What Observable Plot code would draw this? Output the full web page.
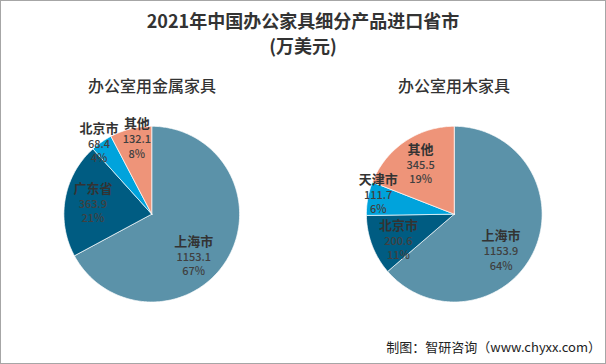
<!DOCTYPE html>
<html>
<head>
<meta charset="utf-8">
<script src="https://cdn.jsdelivr.net/npm/d3@7"></script>
<script src="https://cdn.jsdelivr.net/npm/@observablehq/plot@0.6"></script>
<style>
  html, body { margin: 0; padding: 0; background: #fff; }
  #wrap { position: relative; width: 606px; height: 364px; box-sizing: border-box; border: 1px solid #a6a6a6; overflow: hidden; font-family: "Noto Sans CJK SC", sans-serif; }
  #chart { position: absolute; left: -1px; top: -1px; }
  .title { position: absolute; left: 0; width: 604px; top: 7px; text-align: center; font-size: 18px; font-weight: bold; line-height: 25px; color: #333; }
  .sub { position: absolute; top: 73px; width: 240px; text-align: center; font-size: 16px; line-height: 22px; color: #333; font-weight: 500; }
  .foot { position: absolute; right: 4px; top: 337px; font-size: 13px; line-height: 18px; color: #222; }
</style>
</head>
<body>
<div id="wrap">
  <div id="chart"></div>
  <div class="title">2021年中国办公家具细分产品进口省市<br>(万美元)</div>
  <div class="sub" id="sub0" style="left:31px"></div>
  <div class="sub" id="sub1" style="left:333px"></div>
  <div class="foot">制图：智研咨询（www.chyxx.com）</div>
</div>
<script>
const products = ["办公室用金属家具", "办公室用木家具"];
const metalRegions = ["上海市", "广东省", "北京市", "其他"];
const metalValues = [1153.1, 363.9, 68.4, 132.1];
const woodRegions = ["上海市", "北京市", "天津市", "其他"];
const woodValues = [1153.9, 200.6, 111.7, 345.5];
const palette = ["#5b92a9", "#005c82", "#00a3dc", "#ee9479"];

document.getElementById("sub0").textContent = products[0];
document.getElementById("sub1").textContent = products[1];

const W = 606, H = 364, R = 88, CY = 214;
const half = (W / 2) / 2 / R;

const wedges = [];
const labels = [];
function build(product, regions, values) {
  const total = d3.sum(values);
  const arcs = d3.pie().sort(null).value(d => d)(values);
  const group = [];
  arcs.forEach((a, i) => {
    const key = product + "|" + regions[i];
    const pts = [{x: 0, y: 0}];
    const n = Math.max(2, Math.ceil((a.endAngle - a.startAngle) / (Math.PI / 180)));
    for (let k = 0; k <= n; k++) {
      const t = a.startAngle + (a.endAngle - a.startAngle) * k / n;
      pts.push({x: Math.sin(t), y: Math.cos(t)});
    }
    pts.push({x: 0, y: 0});
    pts.forEach(p => wedges.push({product, key, idx: i, x: p.x, y: p.y}));
    const frac = values[i] / total;
    const span = a.endAngle - a.startAngle;
    // large slices: label sits a little past the middle of the arc (best-fit style)
    const mid = (a.startAngle + a.endAngle) / 2 + (frac > 0.5 ? span * 0.06 : 0);
    const rf = frac > 0.1 ? 0.68 : (frac > 0.05 ? 0.88 : 0.98);
    const value = values[i].toFixed(1);
    group.push({
      product,
      region: regions[i],
      value,
      pct: Math.round(frac * 100) + "%",
      px: rf * Math.sin(mid) * R,
      py: -rf * Math.cos(mid) * R,
      w: Math.max(13 * regions[i].length, 6.6 * value.length) + 2,
      h: 46
    });
  });
  // simple overlap resolution between label boxes (pixel units)
  for (let it = 0; it < 20; it++) {
    let moved = false;
    for (let i = 0; i < group.length; i++) {
      for (let j = i + 1; j < group.length; j++) {
        const a = group[i], b = group[j];
        const ox = (a.w + b.w) / 2 - Math.abs(a.px - b.px);
        const oy = (a.h + b.h) / 2 - Math.abs(a.py - b.py);
        if (ox > 0 && oy > 0) {
          moved = true;
          if (ox < oy) {
            const s = Math.sign(a.px - b.px) || 1;
            a.px += s * ox / 2; b.px -= s * ox / 2;
          } else {
            const s = Math.sign(a.py - b.py) || 1;
            a.py += s * oy / 2; b.py -= s * oy / 2;
          }
        }
      }
    }
    if (!moved) break;
  }
  group.forEach(g => labels.push({...g, x: g.px / R, y: -g.py / R}));
}
build(products[0], metalRegions, metalValues);
build(products[1], woodRegions, woodValues);

const plot = Plot.plot({
  width: W,
  height: H,
  marginTop: CY - R,
  marginBottom: H - (CY + R),
  marginLeft: 0,
  marginRight: 0,
  style: {background: "transparent", fontFamily: "Noto Sans CJK SC, sans-serif"},
  fx: {domain: products, padding: 0, axis: null},
  x: {domain: [-half, half], axis: null},
  y: {domain: [-1, 1], axis: null},
  color: {type: "ordinal", domain: [0, 1, 2, 3], range: palette},
  marks: [
    Plot.line(wedges, {x: "x", y: "y", fx: "product", z: "key", fill: "idx", stroke: "#ffffff", strokeWidth: 0.7, curve: "linear"}),
    Plot.text(labels, {x: "x", y: "y", fx: "product", text: "region", dy: -15, fontSize: 13, fontWeight: "bold", fill: "#333333"}),
    Plot.text(labels, {x: "x", y: "y", fx: "product", text: "value", dy: 0.5, fontSize: 11, fontWeight: 500, fill: "#404040"}),
    Plot.text(labels, {x: "x", y: "y", fx: "product", text: "pct", dy: 15, fontSize: 11, fontWeight: 500, fill: "#404040"})
  ]
});
document.getElementById("chart").appendChild(plot);
</script>
</body>
</html>
